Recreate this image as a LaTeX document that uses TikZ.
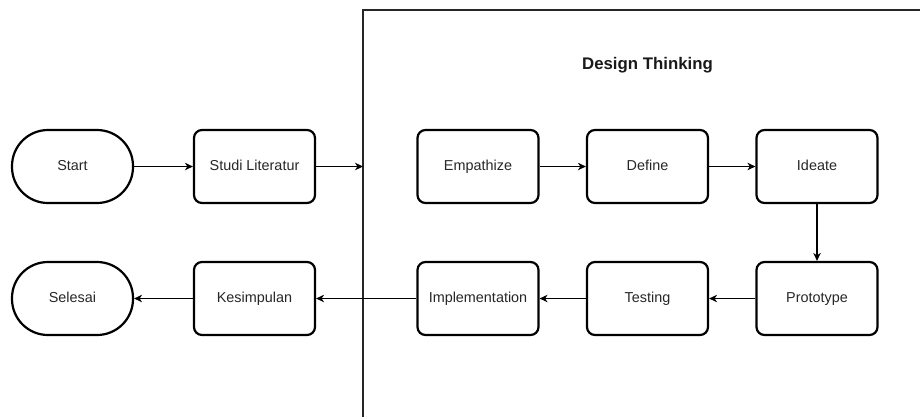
\documentclass[tikz,border=0pt]{standalone}
\usepackage{fontspec}
\setmainfont{Liberation Sans}
\usetikzlibrary{arrows.meta}
\begin{document}
\begin{tikzpicture}[x=1pt,y=-1pt,
  proc/.style={draw=black,line width=2.2pt,rounded corners=8pt,minimum width=121pt,minimum height=73pt,inner sep=0pt,text height=10.5pt,text depth=3pt,font=\fontsize{14.4}{16}\selectfont,text=black!85},
  term/.style={proc,rounded corners=36pt},
  conn/.style={line width=1.2pt,-{Stealth[length=8pt,width=7.5pt,inset=2.5pt]}},
  frame/.style={line width=2.2pt,draw=black!85}
]
\useasboundingbox (0,0) rectangle (920,416);
% container
\draw[frame] (363,417) -- (363,10) -- (921,10);
\node[font=\bfseries\fontsize{16.8}{19}\selectfont,text=black!90] (title) at (647.5,65) {Design Thinking};
\coordinate (cin) at (363,166.5);
% row 1
\node[term] (start) at (72.5,166.5) {Start};
\node[proc] (studi) at (254.5,166.5) {Studi Literatur};
\node[proc] (emp) at (478,166.5) {Empathize};
\node[proc] (def) at (647.5,166.5) {Define};
\node[proc] (ide) at (817,166.5) {Ideate};
% row 2
\node[term] (sel) at (72.5,298.5) {Selesai};
\node[proc] (kes) at (254.5,298.5) {Kesimpulan};
\node[proc] (imp) at (478,298.5) {Implementation};
\node[proc] (tes) at (647.5,298.5) {Testing};
\node[proc] (pro) at (817,298.5) {Prototype};
% connectors
\draw[conn] (start) -- (studi);
\draw[conn] (studi) -- (cin);
\draw[conn] (emp) -- (def);
\draw[conn] (def) -- (ide);
\draw[conn] (ide) -- (pro);
\draw[conn] (pro) -- (tes);
\draw[conn] (tes) -- (imp);
\draw[conn] (imp) -- (kes);
\draw[conn] (kes) -- (sel);
\end{tikzpicture}
\end{document}
